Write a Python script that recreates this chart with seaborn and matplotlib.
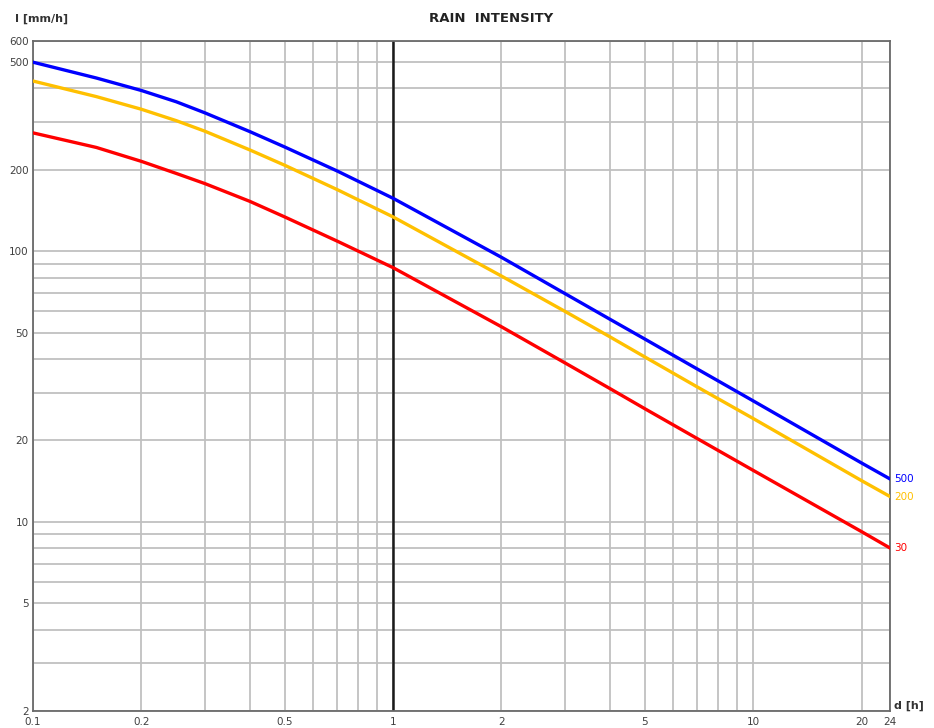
import numpy as np
import pandas as pd
import seaborn as sns
import matplotlib
matplotlib.use("Agg")
import matplotlib.pyplot as plt
from matplotlib.ticker import FixedLocator, NullFormatter

# Duration [h]
durations = [0.1, 0.15, 0.2, 0.25, 0.3, 0.4, 0.5, 0.7, 1, 2, 3, 4, 5, 7, 10, 20, 24]

# Rain intensity [mm/h] for each return period
intensity_500 = [500, 437, 393, 357, 325, 277, 243, 198, 157, 95, 69.8, 56.1, 47.4, 36.7, 28.0, 16.5, 14.4]
intensity_200 = [426, 373, 335, 304, 278, 237, 208, 169, 134, 81, 60.0, 48.3, 40.7, 31.5, 24.1, 14.2, 12.4]
intensity_30 = [274, 242, 215, 194, 178, 153, 134, 109, 87, 52.6, 38.7, 31.1, 26.2, 20.3, 15.5, 9.2, 8.0]

series_names = ["500", "200", "30"]
series_colors = ["#0000ff", "#ffc000", "#ff0000"]

x_ticks = [0.1, 0.2, 0.5, 1, 2, 5, 10, 20, 24]
x_tick_labels = ["0.1", "0.2", "0.5", "1", "2", "5", "10", "20", "24"]
y_ticks = [2, 5, 10, 20, 50, 100, 200, 500, 600]
y_tick_labels = ["2", "5", "10", "20", "50", "100", "200", "500", "600"]

df = pd.DataFrame({
    "d": durations * 3,
    "I": intensity_500 + intensity_200 + intensity_30,
    "T": [series_names[0]] * len(durations) + [series_names[1]] * len(durations)
         + [series_names[2]] * len(durations),
})

sns.set_style("white")
plt.rcParams["font.family"] = ["DejaVu Sans"]

fig = plt.figure(figsize=(9.34, 7.28), dpi=100)
ax = fig.add_axes([0.0353, 0.0234, 0.9177, 0.9206])

ax.set_xscale("log")
ax.set_yscale("log")
ax.set_xlim(0.1, 24)
ax.set_ylim(2, 600)

# grid lines on every decade subdivision
x_minor = [v * m for v in (0.1, 1, 10) for m in range(2, 10) if 0.1 < v * m < 24]
y_minor = [v * m for v in (1, 10, 100) for m in range(2, 10) if 2 < v * m < 600]
ax.xaxis.set_major_locator(FixedLocator(x_ticks))
ax.xaxis.set_minor_locator(FixedLocator(x_minor))
ax.yaxis.set_major_locator(FixedLocator(y_ticks))
ax.yaxis.set_minor_locator(FixedLocator(y_minor))
ax.set_xticklabels(x_tick_labels)
ax.set_yticklabels(y_tick_labels)
ax.xaxis.set_minor_formatter(NullFormatter())
ax.yaxis.set_minor_formatter(NullFormatter())
ax.grid(True, which="both", color="#c0c0c0", linewidth=1.3, zorder=0)
ax.tick_params(which="both", length=0, labelsize=7.5, colors="#404040")
ax.tick_params(axis="x", pad=4)
ax.tick_params(axis="y", pad=3)

for s in ax.spines.values():
    s.set_color("#6a6a6a")
    s.set_linewidth(1.3)
    s.set_visible(True)

ax.axvline(1, color="#1a1a1a", linewidth=1.8, zorder=2)

sns.lineplot(data=df, x="d", y="I", hue="T", hue_order=series_names,
             palette=series_colors, linewidth=2.4, legend=False, ax=ax, zorder=3)
ax.set_xlabel("")
ax.set_ylabel("")

# curve labels at the right edge
for name, col, vals in zip(series_names, series_colors,
                           [intensity_500, intensity_200, intensity_30]):
    ax.annotate(name, xy=(durations[-1], vals[-1]), xytext=(3, 0),
                textcoords="offset points", color=col, fontsize=7.5,
                va="center", ha="left", annotation_clip=False)

fig.text(0.526, 0.975, "RAIN  INTENSITY", ha="center", va="center",
         fontsize=9.5, fontweight="bold", color="#222222")
fig.text(0.016, 0.974, "I [mm/h]", ha="left", va="center",
         fontsize=8, fontweight="bold", color="#333333")
fig.text(0.957, 0.031, "d [h]", ha="left", va="center",
         fontsize=8, fontweight="bold", color="#333333")

fig.savefig("out.png", dpi=100)
